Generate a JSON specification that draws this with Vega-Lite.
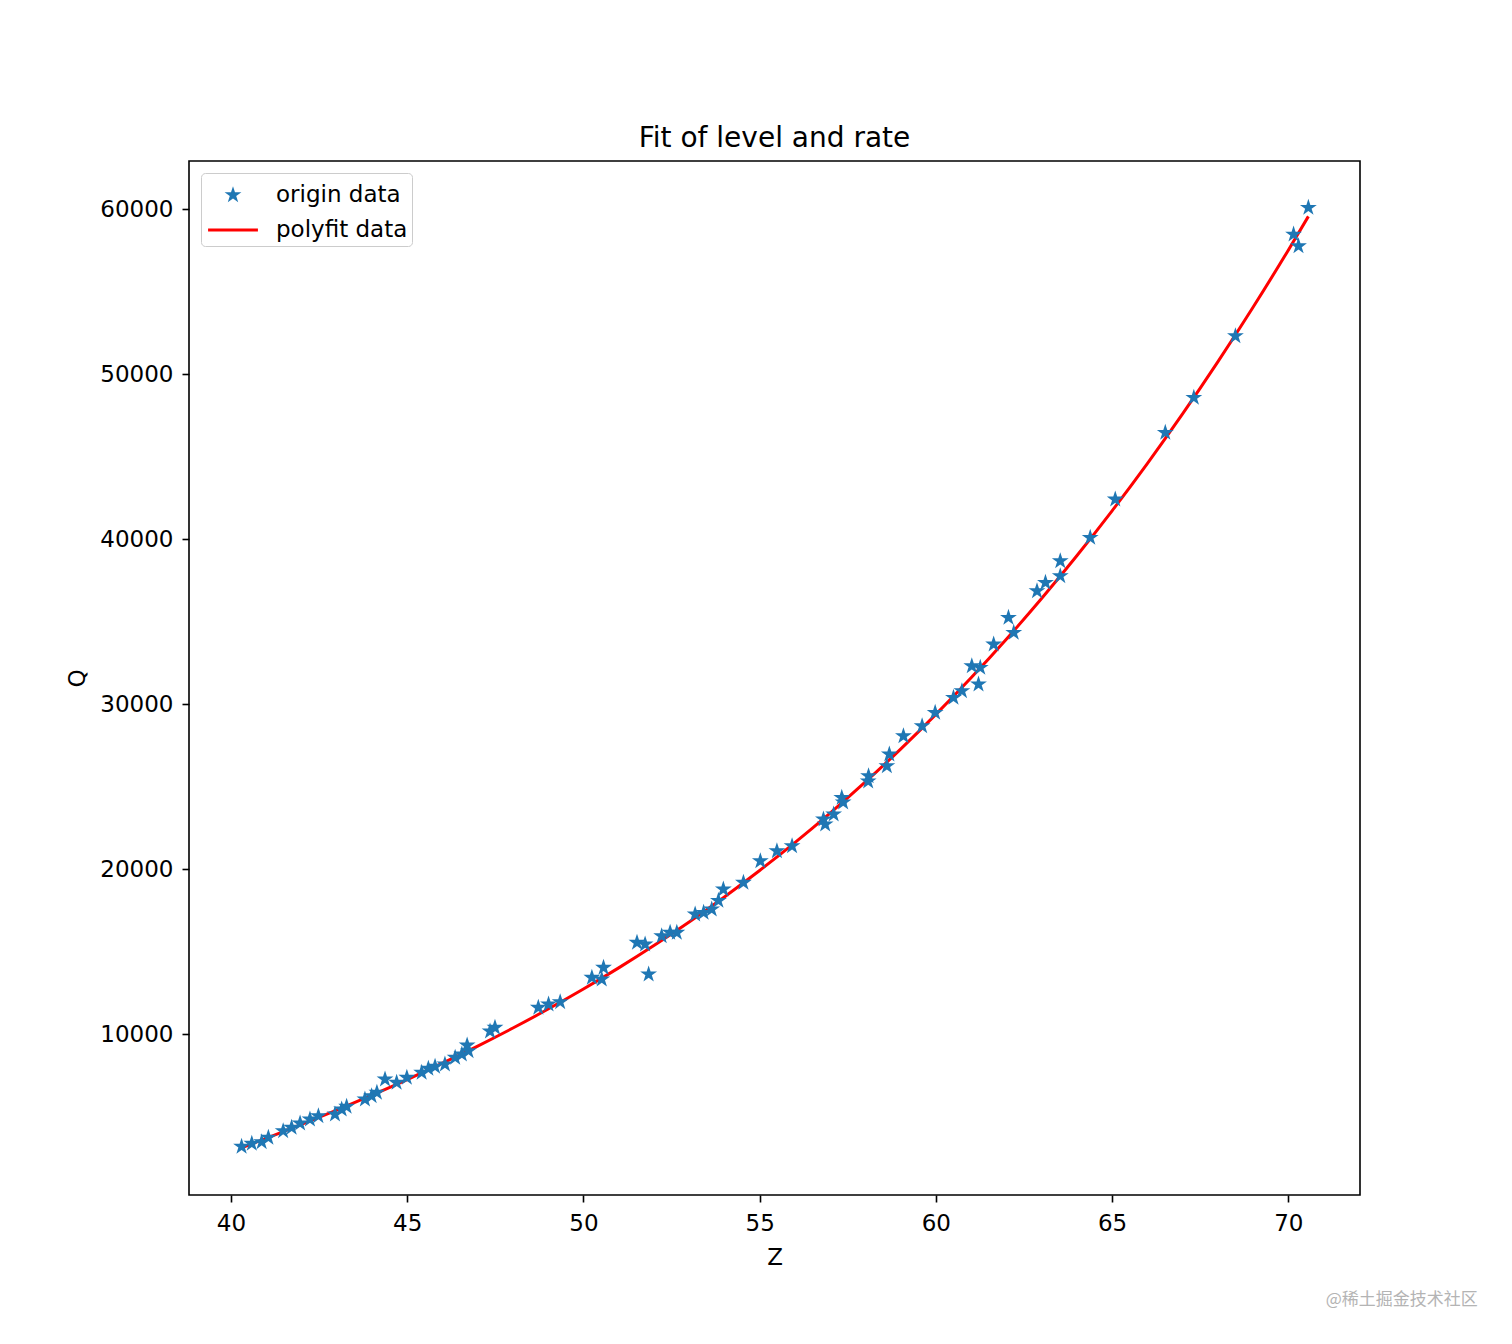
{
  "$schema": "https://vega.github.io/schema/vega-lite/v6.json",
  "width": 1171,
  "height": 1034,
  "autosize": {"type": "none"},
  "padding": {"left": 189, "top": 161, "right": 152, "bottom": 149},
  "background": "white",
  "title": {"text": "Fit of level and rate", "fontSize": 28, "font": "DejaVu Sans", "fontWeight": "normal", "color": "black", "anchor": "middle", "offset": 8},
  "config": {
    "view": {"stroke": "black", "strokeWidth": 1.6},
    "axis": {"domain": false, "grid": false, "tickColor": "black", "tickSize": 7, "tickWidth": 1.6, "labelFont": "DejaVu Sans", "labelFontSize": 23, "labelColor": "black", "titleFont": "DejaVu Sans", "titleFontSize": 23, "titleFontWeight": "normal", "titleColor": "black"}
  },
  "layer": [
    {
      "data": {"values": [
        {"Z": 40.3, "Q": 3124, "series": "polyfit data"},
        {"Z": 41, "Q": 3697, "series": "polyfit data"},
        {"Z": 42, "Q": 4537, "series": "polyfit data"},
        {"Z": 43, "Q": 5408, "series": "polyfit data"},
        {"Z": 44, "Q": 6314, "series": "polyfit data"},
        {"Z": 45, "Q": 7259, "series": "polyfit data"},
        {"Z": 46, "Q": 8249, "series": "polyfit data"},
        {"Z": 47, "Q": 9287, "series": "polyfit data"},
        {"Z": 48, "Q": 10379, "series": "polyfit data"},
        {"Z": 49, "Q": 11530, "series": "polyfit data"},
        {"Z": 50, "Q": 12744, "series": "polyfit data"},
        {"Z": 51, "Q": 14026, "series": "polyfit data"},
        {"Z": 52, "Q": 15380, "series": "polyfit data"},
        {"Z": 53, "Q": 16811, "series": "polyfit data"},
        {"Z": 54, "Q": 18325, "series": "polyfit data"},
        {"Z": 55, "Q": 19925, "series": "polyfit data"},
        {"Z": 56, "Q": 21615, "series": "polyfit data"},
        {"Z": 57, "Q": 23404, "series": "polyfit data"},
        {"Z": 58, "Q": 25292, "series": "polyfit data"},
        {"Z": 59, "Q": 27286, "series": "polyfit data"},
        {"Z": 60, "Q": 29390, "series": "polyfit data"},
        {"Z": 61, "Q": 31609, "series": "polyfit data"},
        {"Z": 62, "Q": 33947, "series": "polyfit data"},
        {"Z": 63, "Q": 36410, "series": "polyfit data"},
        {"Z": 64, "Q": 39002, "series": "polyfit data"},
        {"Z": 65, "Q": 41727, "series": "polyfit data"},
        {"Z": 66, "Q": 44591, "series": "polyfit data"},
        {"Z": 67, "Q": 47598, "series": "polyfit data"},
        {"Z": 68, "Q": 50752, "series": "polyfit data"},
        {"Z": 69, "Q": 54060, "series": "polyfit data"},
        {"Z": 70, "Q": 57524, "series": "polyfit data"},
        {"Z": 70.57, "Q": 59571, "series": "polyfit data"}
      ]},
      "mark": {"type": "line", "strokeWidth": 3, "interpolate": "monotone", "opacity": 1},
      "encoding": {
        "x": {"field": "Z", "type": "quantitative", "scale": {"domain": [38.808, 72.035], "nice": false, "zero": false}, "axis": {"title": "Z", "values": [40, 45, 50, 55, 60, 65, 70], "labelPadding": 10, "titlePadding": 11}},
        "y": {"field": "Q", "type": "quantitative", "scale": {"domain": [260, 62928], "nice": false, "zero": false}, "axis": {"title": "Q", "values": [10000, 20000, 30000, 40000, 50000, 60000], "format": "d", "labelPadding": 9, "titlePadding": 10}},
        "color": {"field": "series", "type": "nominal", "scale": {"domain": ["origin data", "polyfit data"], "range": ["#1f77b4", "#ff0000"]},
          "legend": {"title": null, "orient": "top-left", "offset": 12, "padding": 4, "symbolOffset": 10, "labelOffset": 25, "rowPadding": 5, "symbolSize": 1250, "symbolOpacity": 1, "symbolStrokeWidth": 0, "strokeColor": "#cccccc", "fillColor": "rgba(255,255,255,0.8)", "cornerRadius": 4, "labelFont": "DejaVu Sans", "labelFontSize": 23, "labelColor": "black", "labelLimit": 400}}
      }
    },
    {
      "data": {"values": [
        {"Z": 40.30, "Q": 3195, "series": "origin data"},
        {"Z": 40.59, "Q": 3376, "series": "origin data"},
        {"Z": 40.87, "Q": 3473, "series": "origin data"},
        {"Z": 41.06, "Q": 3740, "series": "origin data"},
        {"Z": 41.48, "Q": 4140, "series": "origin data"},
        {"Z": 41.72, "Q": 4346, "series": "origin data"},
        {"Z": 41.96, "Q": 4607, "series": "origin data"},
        {"Z": 42.24, "Q": 4849, "series": "origin data"},
        {"Z": 42.48, "Q": 5049, "series": "origin data"},
        {"Z": 42.95, "Q": 5152, "series": "origin data"},
        {"Z": 43.14, "Q": 5455, "series": "origin data"},
        {"Z": 43.28, "Q": 5618, "series": "origin data"},
        {"Z": 43.80, "Q": 6061, "series": "origin data"},
        {"Z": 43.99, "Q": 6261, "series": "origin data"},
        {"Z": 44.14, "Q": 6467, "series": "origin data"},
        {"Z": 44.37, "Q": 7273, "series": "origin data"},
        {"Z": 44.70, "Q": 7073, "series": "origin data"},
        {"Z": 44.99, "Q": 7376, "series": "origin data"},
        {"Z": 45.41, "Q": 7679, "series": "origin data"},
        {"Z": 45.60, "Q": 7921, "series": "origin data"},
        {"Z": 45.79, "Q": 8043, "series": "origin data"},
        {"Z": 46.07, "Q": 8182, "series": "origin data"},
        {"Z": 46.36, "Q": 8588, "series": "origin data"},
        {"Z": 46.55, "Q": 8788, "series": "origin data"},
        {"Z": 46.74, "Q": 8988, "series": "origin data"},
        {"Z": 46.70, "Q": 9330, "series": "origin data"},
        {"Z": 47.35, "Q": 10180, "series": "origin data"},
        {"Z": 47.49, "Q": 10406, "series": "origin data"},
        {"Z": 48.72, "Q": 11618, "series": "origin data"},
        {"Z": 49.01, "Q": 11818, "series": "origin data"},
        {"Z": 49.34, "Q": 11958, "series": "origin data"},
        {"Z": 50.24, "Q": 13436, "series": "origin data"},
        {"Z": 50.52, "Q": 13333, "series": "origin data"},
        {"Z": 50.57, "Q": 14042, "series": "origin data"},
        {"Z": 51.52, "Q": 15557, "series": "origin data"},
        {"Z": 51.75, "Q": 15454, "series": "origin data"},
        {"Z": 51.85, "Q": 13636, "series": "origin data"},
        {"Z": 52.22, "Q": 15957, "series": "origin data"},
        {"Z": 52.46, "Q": 16163, "series": "origin data"},
        {"Z": 52.65, "Q": 16163, "series": "origin data"},
        {"Z": 53.17, "Q": 17272, "series": "origin data"},
        {"Z": 53.41, "Q": 17374, "series": "origin data"},
        {"Z": 53.64, "Q": 17575, "series": "origin data"},
        {"Z": 53.83, "Q": 18100, "series": "origin data"},
        {"Z": 53.97, "Q": 18787, "series": "origin data"},
        {"Z": 54.54, "Q": 19193, "series": "origin data"},
        {"Z": 55.02, "Q": 20502, "series": "origin data"},
        {"Z": 55.49, "Q": 21108, "series": "origin data"},
        {"Z": 55.92, "Q": 21411, "series": "origin data"},
        {"Z": 56.81, "Q": 23029, "series": "origin data"},
        {"Z": 56.86, "Q": 22726, "series": "origin data"},
        {"Z": 57.10, "Q": 23332, "series": "origin data"},
        {"Z": 57.33, "Q": 24344, "series": "origin data"},
        {"Z": 57.37, "Q": 24059, "series": "origin data"},
        {"Z": 58.08, "Q": 25332, "series": "origin data"},
        {"Z": 58.09, "Q": 25653, "series": "origin data"},
        {"Z": 58.61, "Q": 26259, "series": "origin data"},
        {"Z": 58.68, "Q": 26970, "series": "origin data"},
        {"Z": 59.08, "Q": 28077, "series": "origin data"},
        {"Z": 59.61, "Q": 28683, "series": "origin data"},
        {"Z": 59.98, "Q": 29494, "series": "origin data"},
        {"Z": 60.50, "Q": 30404, "series": "origin data"},
        {"Z": 60.74, "Q": 30808, "series": "origin data"},
        {"Z": 61.02, "Q": 32319, "series": "origin data"},
        {"Z": 61.26, "Q": 32222, "series": "origin data"},
        {"Z": 61.21, "Q": 31211, "series": "origin data"},
        {"Z": 61.64, "Q": 33634, "series": "origin data"},
        {"Z": 62.06, "Q": 35252, "series": "origin data"},
        {"Z": 62.21, "Q": 34343, "series": "origin data"},
        {"Z": 62.87, "Q": 36865, "series": "origin data"},
        {"Z": 63.11, "Q": 37373, "series": "origin data"},
        {"Z": 63.53, "Q": 37777, "series": "origin data"},
        {"Z": 63.53, "Q": 38683, "series": "origin data"},
        {"Z": 64.38, "Q": 40100, "series": "origin data"},
        {"Z": 65.09, "Q": 42421, "series": "origin data"},
        {"Z": 66.51, "Q": 46463, "series": "origin data"},
        {"Z": 67.32, "Q": 48584, "series": "origin data"},
        {"Z": 68.50, "Q": 52317, "series": "origin data"},
        {"Z": 70.15, "Q": 58480, "series": "origin data"},
        {"Z": 70.29, "Q": 57770, "series": "origin data"},
        {"Z": 70.57, "Q": 60100, "series": "origin data"}
      ]},
      "mark": {"type": "point", "filled": true, "size": 1250, "opacity": 1, "strokeWidth": 0},
      "encoding": {
        "x": {"field": "Z", "type": "quantitative"},
        "y": {"field": "Q", "type": "quantitative"},
        "color": {"field": "series", "type": "nominal", "scale": {"domain": ["origin data", "polyfit data"], "range": ["#1f77b4", "#ff0000"]}},
        "shape": {"field": "series", "type": "nominal", "scale": {"domain": ["origin data", "polyfit data"], "range": ["M0,-0.5L0.112,-0.155L0.476,-0.155L0.182,0.059L0.294,0.405L0,0.191L-0.294,0.405L-0.182,0.059L-0.476,-0.155L-0.112,-0.155Z", "M-1.41,-0.085L1.41,-0.085L1.41,0.085L-1.41,0.085Z"]},
          "legend": {"title": null, "orient": "top-left", "offset": 12, "padding": 4, "symbolOffset": 10, "labelOffset": 25, "rowPadding": 5, "symbolSize": 1250, "symbolOpacity": 1, "symbolStrokeWidth": 0, "strokeColor": "#cccccc", "fillColor": "rgba(255,255,255,0.8)", "cornerRadius": 4, "labelFont": "DejaVu Sans", "labelFontSize": 23, "labelColor": "black", "labelLimit": 400}}
      }
    },
    {
      "data": {"values": [{"label": "@稀土掘金技术社区"}]},
      "mark": {"type": "text", "align": "right", "baseline": "middle", "color": "#b4b4b4", "fontSize": 17, "font": "Noto Sans CJK SC", "clip": false},
      "encoding": {
        "x": {"datum": 75.38, "type": "quantitative"},
        "y": {"datum": -6100, "type": "quantitative"},
        "text": {"field": "label", "type": "nominal"}
      }
    }
  ]
}
